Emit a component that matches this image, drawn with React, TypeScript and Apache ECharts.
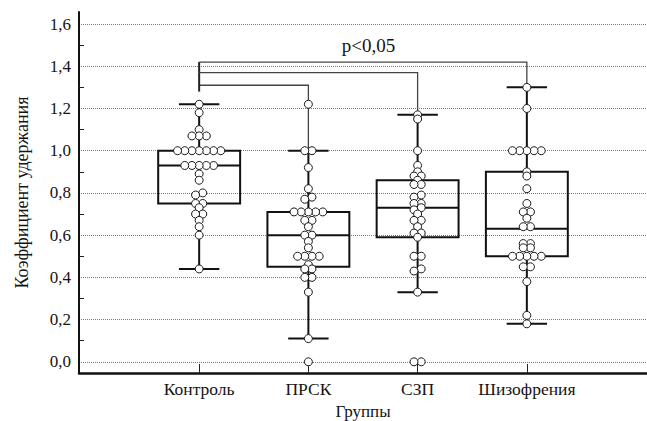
import React, { useEffect, useRef } from 'react';
import * as echarts from 'echarts';

const categories = ['Контроль', 'ПРСК', 'СЗП', 'Шизофрения'];
const yMajorTicks = [0, 0.2, 0.4, 0.6, 0.8, 1.0, 1.2, 1.4, 1.6];
const yMinorTicks = [0.1, 0.3, 0.5, 0.7, 0.9, 1.1, 1.3, 1.5];

const controlValues = [1.22, 1.18, 1.10, 1.07, 1.07, 1.07, 1.0, 1.0, 1.0, 1.0, 1.0, 1.0, 1.0,
  0.93, 0.93, 0.93, 0.93, 0.93, 0.89, 0.86, 0.80, 0.79, 0.75, 0.75, 0.73, 0.70, 0.70, 0.67, 0.64, 0.60, 0.44];
const prskValues = [1.22, 1.0, 1.0, 0.92, 0.82, 0.78, 0.77, 0.71, 0.71, 0.71, 0.71, 0.71, 0.67, 0.67, 0.64,
  0.60, 0.60, 0.57, 0.54, 0.50, 0.50, 0.50, 0.50, 0.46, 0.44, 0.44, 0.40, 0.40, 0.33, 0.11, 0.0];
const szpValues = [1.17, 1.15, 1.0, 0.93, 0.90, 0.88, 0.88, 0.86, 0.84, 0.84, 0.79, 0.78, 0.75, 0.75, 0.73,
  0.72, 0.70, 0.67, 0.67, 0.64, 0.61, 0.61, 0.59, 0.50, 0.50, 0.44, 0.43, 0.33, 0.0, 0.0];
const schizoValues = [1.30, 1.20, 1.0, 1.0, 1.0, 1.0, 1.0, 0.90, 0.88, 0.82, 0.75, 0.71, 0.71, 0.68, 0.64, 0.64,
  0.56, 0.56, 0.54, 0.54, 0.50, 0.50, 0.50, 0.50, 0.50, 0.45, 0.45, 0.38, 0.22, 0.18];

const whiskerLow = [0.44, 0.11, 0.33, 0.18];
const quartile1 = [0.75, 0.45, 0.59, 0.50];
const medians = [0.93, 0.60, 0.73, 0.63];
const quartile3 = [1.0, 0.71, 0.86, 0.90];
const whiskerHigh = [1.22, 1.0, 1.17, 1.30];

// brackets from Контроль to groups 2, 3, 4
const bracketLevels = [1.31, 1.37, 1.42];
const pLabel = 'p<0,05';
const pLabelPos = [2.55, 1.5];

const groupValues = [controlValues, prskValues, szpValues, schizoValues];

const FONT = 'Liberation Serif';
const TXT = '#141414';

function swarmOffsets(values: number[], tol: number): number[] {
  const idx = values.map((_, i) => i).sort((a, b) => values[b] - values[a]);
  const off = new Array(values.length).fill(0);
  let i = 0;
  while (i < idx.length) {
    let j = i + 1;
    while (j < idx.length && values[idx[i]] - values[idx[j]] <= tol) j++;
    const n = j - i;
    for (let k = 0; k < n; k++) off[idx[i + k]] = (n - 1) / 2 - k;
    i = j;
  }
  return off;
}

export default function App() {
  const ref = useRef<HTMLDivElement>(null);
  useEffect(() => {
    if (!ref.current) return;
    const chart = echarts.init(ref.current, undefined, { renderer: 'svg' });
    const step = 7.2;
    const points: any[] = [];
    groupValues.forEach((vals, g) => {
      const offs = swarmOffsets(vals, 0.016);
      vals.forEach((v, i) => {
        points.push({ value: [g + 1, v], symbolOffset: [offs[i] * step, 0] });
      });
    });
    const boxData = categories.map((_, i) => [i + 1, whiskerLow[i], quartile1[i], medians[i], quartile3[i], whiskerHigh[i]]);
    const bracketData = bracketLevels.map((lvl, i) => [1, i + 2, lvl, whiskerHigh[i + 1]]);
    const stemTop = Math.max(...bracketLevels);
    const stemBottom = Math.min(...bracketLevels) - 0.03;

    const option: any = {
      animation: false,
      textStyle: { fontFamily: FONT },
      grid: { left: 79, right: 0, top: 12, bottom: 48, containLabel: false, outerBoundsMode: 'none' },
      xAxis: {
        type: 'value', min: -0.1, max: 5.1,
        name: 'Группы', nameLocation: 'middle', nameGap: 27,
        nameTextStyle: { fontFamily: FONT, fontSize: 17, color: TXT },
        axisLine: { show: true, onZero: false, lineStyle: { color: '#111', width: 2.5 } },
        axisTick: { show: true, inside: true, length: 9, customValues: [1, 2, 3, 4], lineStyle: { color: '#222', width: 1 } },
        axisLabel: {
          customValues: [1, 2, 3, 4], margin: 7,
          formatter: (v: number) => categories[Math.round(v) - 1] ?? '',
          fontFamily: FONT, fontSize: 17.5, color: TXT,
        },
        splitLine: { show: false },
      },
      yAxis: [
        {
          type: 'value', min: -0.053, max: 1.657, position: 'left',
          name: 'Коэффициент удержания', nameLocation: 'middle', nameGap: 48,
          nameTextStyle: { fontFamily: FONT, fontSize: 18, color: TXT },
          axisLine: { show: true, onZero: false, lineStyle: { color: '#111', width: 2 } },
          axisTick: { show: false, customValues: yMajorTicks },
          axisLabel: {
            customValues: yMajorTicks, margin: 8,
            formatter: (v: number) => v.toFixed(1).replace('.', ','),
            fontFamily: FONT, fontSize: 17, color: TXT,
          },
          splitLine: { show: true, lineStyle: { color: '#7a7a7a', width: 1, type: [1, 1] } },
        },
        {
          type: 'value', min: -0.053, max: 1.657, position: 'left', offset: 0,
          axisLine: { show: false, onZero: false },
          axisTick: { show: true, inside: true, length: 5, customValues: yMinorTicks, lineStyle: { color: '#222', width: 1 } },
          axisLabel: { show: false },
          splitLine: { show: false },
        },
      ],
      series: [
        {
          type: 'custom', name: 'boxes', z: 2,
          data: boxData,
          encode: { x: 0, y: [1, 2, 3, 4, 5] },
          renderItem: (params: any, api: any) => {
            const x = api.value(0);
            const lo = api.coord([x, api.value(1)]);
            const b1 = api.coord([x, api.value(2)]);
            const md = api.coord([x, api.value(3)]);
            const b3 = api.coord([x, api.value(4)]);
            const hi = api.coord([x, api.value(5)]);
            const bw = api.size([0.75, 0])[0];
            const cw = api.size([0.37, 0])[0];
            const st = { stroke: '#111', lineWidth: 2, fill: 'none' };
            return {
              type: 'group',
              children: [
                { type: 'line', shape: { x1: lo[0], y1: lo[1], x2: b1[0], y2: b1[1] }, style: st },
                { type: 'line', shape: { x1: b3[0], y1: b3[1], x2: hi[0], y2: hi[1] }, style: st },
                { type: 'line', shape: { x1: lo[0] - cw / 2, y1: lo[1], x2: lo[0] + cw / 2, y2: lo[1] }, style: st },
                { type: 'line', shape: { x1: hi[0] - cw / 2, y1: hi[1], x2: hi[0] + cw / 2, y2: hi[1] }, style: st },
                { type: 'rect', shape: { x: b3[0] - bw / 2, y: b3[1], width: bw, height: b1[1] - b3[1] }, style: { stroke: '#111', lineWidth: 2, fill: 'rgba(0,0,0,0)' } },
                { type: 'line', shape: { x1: md[0] - bw / 2, y1: md[1], x2: md[0] + bw / 2, y2: md[1] }, style: st },
              ],
            };
          },
        },
        {
          type: 'custom', name: 'brackets', z: 2,
          data: bracketData,
          encode: { x: [0, 1], y: [2, 3] },
          renderItem: (params: any, api: any) => {
            const a = api.coord([api.value(0), api.value(2)]);
            const b = api.coord([api.value(1), api.value(2)]);
            const c = api.coord([api.value(1), api.value(3)]);
            const children: any[] = [
              { type: 'polyline', shape: { points: [a, b, c] }, style: { stroke: '#444', lineWidth: 1.3, fill: 'none' } },
            ];
            if (params.dataIndex === 0) {
              const s1 = api.coord([1, stemTop]);
              const s2 = api.coord([1, stemBottom]);
              children.push({ type: 'line', shape: { x1: s1[0], y1: s1[1], x2: s2[0], y2: s2[1] }, style: { stroke: '#222', lineWidth: 2 } });
            }
            return { type: 'group', children };
          },
        },
        {
          type: 'custom', name: 'pvalue', z: 2,
          data: [pLabelPos],
          encode: { x: 0, y: 1 },
          renderItem: (params: any, api: any) => {
            const p = api.coord([api.value(0), api.value(1)]);
            return {
              type: 'text', x: p[0], y: p[1],
              style: { text: pLabel, fontFamily: FONT, fontSize: 19, fill: TXT, align: 'center', verticalAlign: 'middle' },
            };
          },
        },
        {
          type: 'scatter', name: 'points', z: 3,
          symbol: 'circle', symbolSize: 8,
          itemStyle: { color: '#ffffff', borderColor: '#1a1a1a', borderWidth: 1, opacity: 1 },
          data: points,
        },
      ],
    };
    chart.setOption(option);
    return () => chart.dispose();
  }, []);
  return <div ref={ref} style={{ position: 'fixed', left: 0, top: 0, width: 647, height: 421, background: '#fff' }} />;
}
